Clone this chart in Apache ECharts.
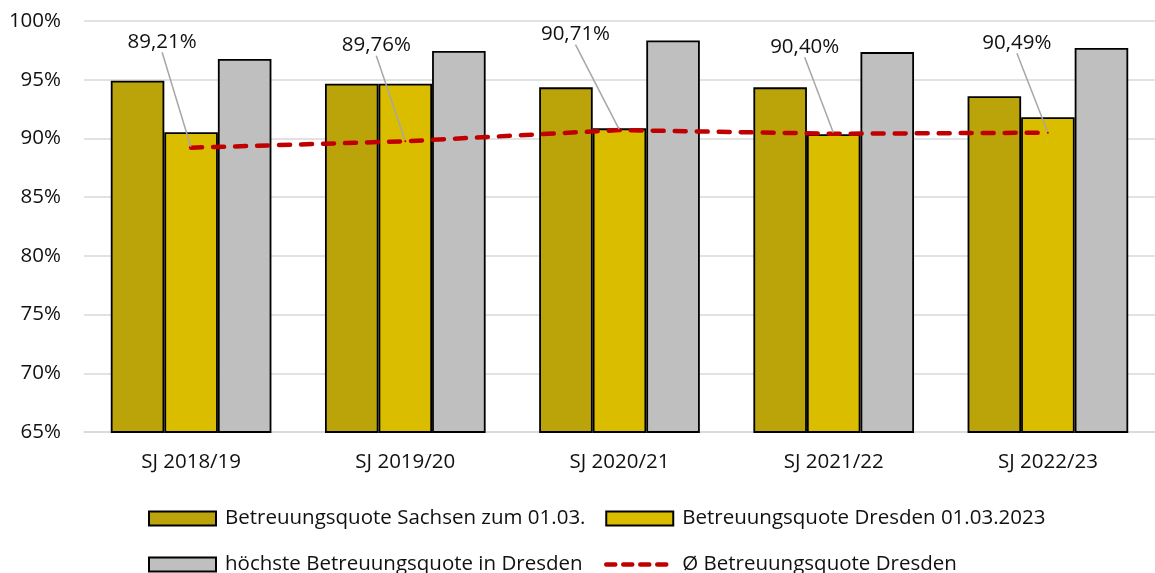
<!DOCTYPE html>
<html>
<head>
<meta charset="utf-8">
<title>Betreuungsquote</title>
<script src="https://cdn.jsdelivr.net/npm/echarts@6/dist/echarts.min.js"></script>
<style>
  html, body { margin: 0; padding: 0; background: #fff; }
  #chart { width: 1155px; height: 573px; }
</style>
</head>
<body>
<div id="chart"></div>
<script>
// data
var categories = ['SJ 2018/19', 'SJ 2019/20', 'SJ 2020/21', 'SJ 2021/22', 'SJ 2022/23'];
var sachsen = [94.92, 94.65, 94.35, 94.35, 93.6];
var dresden = [90.52, 94.65, 90.86, 90.36, 91.8];
var hoechste = [96.76, 97.44, 98.35, 97.35, 97.7];
var durchschnitt = [89.21, 89.76, 90.71, 90.40, 90.49];

var names = [
  'Betreuungsquote Sachsen zum 01.03.',
  'Betreuungsquote Dresden 01.03.2023',
  'höchste Betreuungsquote in Dresden',
  'Ø Betreuungsquote Dresden'
];

// label offsets from the line point (layout only)
var labelShift = [[-29, -106], [-29, -96], [-44, -96], [-29, -87], [-31, -90]];

var font = '"Open Sans", sans-serif';
var fontSize = 20.5;
var textColor = '#111';
var gridColor = '#d9d9d9';

var chart = echarts.init(document.getElementById('chart'));

function barSeries(name, data, color) {
  return {
    name: name,
    type: 'bar',
    data: data,
    barGap: '0%',
    barCategoryGap: '25%',
    itemStyle: { color: color, borderColor: '#000', borderWidth: 1.8 }
  };
}

var legendText = { fontFamily: font, fontSize: fontSize, color: textColor, padding: [0, 0, 0, 4] };
var lineLegend = {
  name: names[3],
  itemStyle: { color: 'rgba(0,0,0,0)', borderWidth: 0 },
  lineStyle: { width: 4.5, type: [9, 8], cap: 'round' }
};

chart.setOption({
  animation: false,
  textStyle: { fontFamily: font },
  grid: { left: 84, right: -11, top: 21, bottom: 141, containLabel: false },
  legend: [
    {
      orient: 'vertical', left: 148, top: 508, width: 440, height: 120, padding: 0,
      itemWidth: 67, itemHeight: 14, itemGap: 25,
      textStyle: legendText,
      data: [{ name: names[0], icon: 'rect' }, { name: names[2], icon: 'rect' }]
    },
    {
      orient: 'vertical', left: 604, top: 508, width: 440, height: 120, padding: 0,
      itemWidth: 67, itemHeight: 14, itemGap: 25,
      textStyle: legendText,
      data: [{ name: names[1], icon: 'rect' }, lineLegend]
    }
  ],
  xAxis: {
    type: 'category',
    data: categories,
    axisLine: { lineStyle: { color: gridColor, width: 1.5 } },
    axisTick: { show: false },
    axisLabel: { margin: 20, fontSize: fontSize, color: textColor, fontFamily: font }
  },
  yAxis: {
    type: 'value',
    min: 65, max: 100, interval: 5,
    axisLine: { show: false },
    axisTick: { show: false },
    splitLine: { lineStyle: { color: gridColor, width: 1.5 } },
    axisLabel: { margin: 23, fontSize: fontSize, color: textColor, fontFamily: font, formatter: '{value}%' }
  },
  series: [
    barSeries(names[0], sachsen, '#bba40a'),
    barSeries(names[1], dresden, '#dbbd00'),
    barSeries(names[2], hoechste, '#bfbfbf'),
    {
      name: names[3],
      type: 'line',
      data: durchschnitt,
      z: 5,
      symbol: 'circle',
      symbolSize: 2,
      itemStyle: { color: '#c00000' },
      lineStyle: { color: '#c00000', width: 4.5, type: [11, 11], cap: 'round' },
      label: {
        show: true,
        fontSize: fontSize,
        color: textColor,
        fontFamily: font,
        formatter: function (p) { return p.value.toFixed(2).replace('.', ',') + '%'; }
      },
      labelLine: { show: true, lineStyle: { color: '#a6a6a6', width: 1.5 } },
      labelLayout: function (p) {
        var s = labelShift[p.dataIndex];
        var px = p.rect.x + p.rect.width / 2;
        var py = p.rect.y + p.rect.height / 2;
        return {
          x: px + s[0],
          y: py + s[1],
          align: 'center',
          verticalAlign: 'middle',
          labelLinePoints: [[px, py], [px + s[0], py + s[1] + 17], [px + s[0], py + s[1] + 17]]
        };
      }
    }
  ]
});
</script>
</body>
</html>
